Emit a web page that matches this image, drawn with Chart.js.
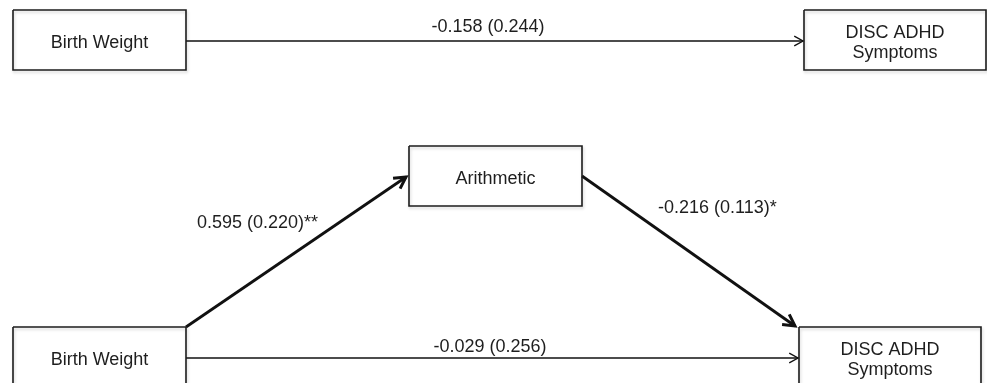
<!DOCTYPE html>
<html>
<head>
<meta charset="utf-8">
<script src="https://cdn.jsdelivr.net/npm/chart.js@4.4.1/dist/chart.umd.min.js"></script>
<style>
  html, body { margin: 0; padding: 0; background: #fff; }
  #diagrama { display: block; }
</style>
</head>
<body>
<canvas id="diagrama" width="987" height="383"></canvas>
<script>
// nodos del diagrama (coordenadas del lienzo de 987 x 383)
var nodoTexto = [['Birth Weight'], ['DISC ADHD', 'Symptoms'], ['Arithmetic'], ['Birth Weight'], ['DISC ADHD', 'Symptoms']];
var nodoX0 = [13, 804, 409, 13, 799];
var nodoX1 = [186, 986, 582, 186, 981];
var nodoY0 = [10, 10, 146, 327, 327];
var nodoY1 = [70, 70, 206, 395, 395];

// caminos: origen -> destino
var caminoX0 = [186, 186, 582, 186];
var caminoY0 = [41, 327, 176, 358];
var caminoX1 = [803, 406, 795, 798];
var caminoY1 = [41, 177, 326, 358];
var grueso = [false, true, true, false];

// coeficientes (error estandar)
var coef = ['-0.158 (0.244)', '0.595 (0.220)**', '-0.216 (0.113)*', '-0.029 (0.256)'];
var coefX = [488, 197, 658, 490];
var coefY = [32, 228, 213, 352];
var coefAlign = ['center', 'left', 'left', 'center'];

var datasets = [];
for (var i = 0; i < nodoTexto.length; i++) {
  datasets.push({
    label: 'nodo' + i,
    data: [
      {x: nodoX0[i], y: nodoY0[i]}, {x: nodoX1[i], y: nodoY0[i]},
      {x: nodoX1[i], y: nodoY1[i]}, {x: nodoX0[i], y: nodoY1[i]},
      {x: nodoX0[i], y: nodoY0[i]}
    ],
    showLine: true,
    borderColor: '#1c1c1c',
    borderWidth: 1.6,
    pointRadius: 0,
    fill: false,
    tension: 0
  });
}
for (var j = 0; j < coef.length; j++) {
  datasets.push({
    label: 'camino' + j,
    data: [{x: caminoX0[j], y: caminoY0[j]}, {x: caminoX1[j], y: caminoY1[j]}],
    showLine: true,
    borderColor: '#111',
    borderWidth: grueso[j] ? 2.8 : 1.5,
    pointRadius: 0,
    fill: false
  });
}

const textos = {
  id: 'textos',
  beforeDatasetDraw: function(chart, args) {
    var ctx = chart.ctx;
    ctx.save();
    if (args.index < nodoTexto.length) {
      ctx.shadowColor = 'rgba(0,0,0,0.18)';
      ctx.shadowBlur = 3;
      ctx.shadowOffsetX = 1;
      ctx.shadowOffsetY = 2;
    }
  },
  afterDatasetDraw: function(chart, args) {
    chart.ctx.restore();
  },
  afterDatasetsDraw: function(chart) {
    var ctx = chart.ctx;
    var sx = chart.scales.x, sy = chart.scales.y;
    ctx.save();
    // puntas de flecha
    for (var j = 0; j < coef.length; j++) {
      var x1 = sx.getPixelForValue(caminoX1[j]), y1 = sy.getPixelForValue(caminoY1[j]);
      var x0 = sx.getPixelForValue(caminoX0[j]), y0 = sy.getPixelForValue(caminoY0[j]);
      var ang = Math.atan2(y1 - y0, x1 - x0);
      var largo = grueso[j] ? 13 : 10;
      var abre = grueso[j] ? 0.5 : 0.5;
      ctx.beginPath();
      ctx.moveTo(x1 - largo * Math.cos(ang - abre), y1 - largo * Math.sin(ang - abre));
      ctx.lineTo(x1, y1);
      ctx.lineTo(x1 - largo * Math.cos(ang + abre), y1 - largo * Math.sin(ang + abre));
      ctx.strokeStyle = '#111';
      ctx.lineWidth = grueso[j] ? 3 : 1.4;
      ctx.lineJoin = 'miter';
      ctx.stroke();
    }
    // texto de los nodos
    ctx.fillStyle = '#1e1e1e';
    ctx.font = '18px "Liberation Sans", Arial, sans-serif';
    ctx.textAlign = 'center';
    ctx.textBaseline = 'alphabetic';
    for (var i = 0; i < nodoTexto.length; i++) {
      var cx = sx.getPixelForValue((nodoX0[i] + nodoX1[i]) / 2);
      var top = sy.getPixelForValue(nodoY0[i]);
      var lineas = nodoTexto[i];
      var base = lineas.length === 1 ? top + 38 : top + 28;
      for (var k = 0; k < lineas.length; k++) {
        ctx.fillText(lineas[k], cx, base + k * 20);
      }
    }
    // coeficientes
    for (var m = 0; m < coef.length; m++) {
      ctx.textAlign = coefAlign[m];
      ctx.fillText(coef[m], sx.getPixelForValue(coefX[m]), sy.getPixelForValue(coefY[m]));
    }
    ctx.restore();
  }
};

new Chart(document.getElementById('diagrama'), {
  type: 'scatter',
  data: { datasets: datasets },
  options: {
    responsive: false,
    animation: false,
    layout: { padding: 0 },
    scales: {
      x: { type: 'linear', min: 0, max: 987, display: false },
      y: { type: 'linear', min: 0, max: 383, reverse: true, display: false }
    },
    plugins: {
      legend: { display: false },
      tooltip: { enabled: false }
    }
  },
  plugins: [textos]
});
</script>
</body>
</html>
